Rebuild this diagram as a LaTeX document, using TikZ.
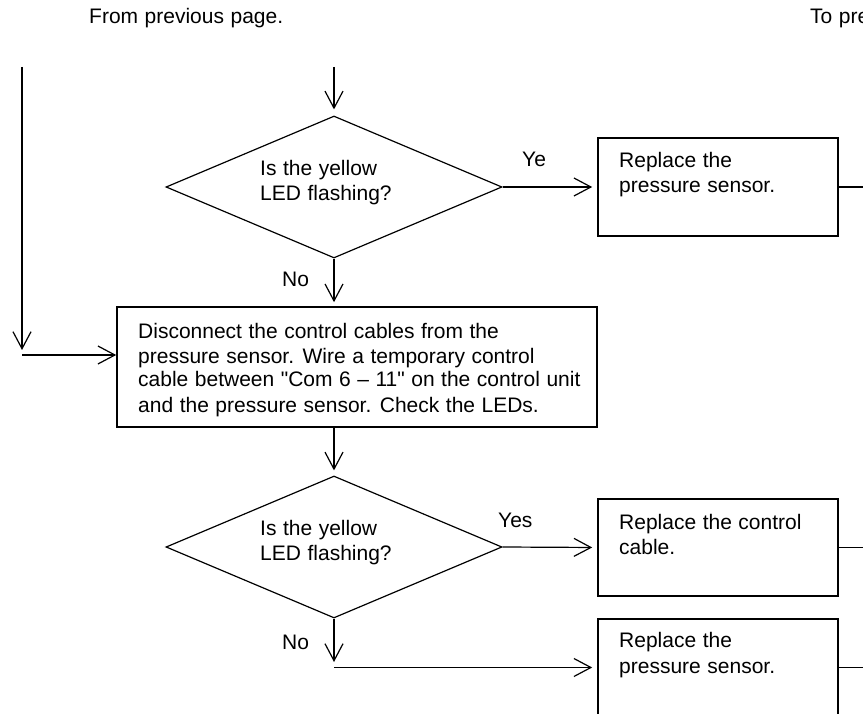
\documentclass[tikz,border=0pt]{standalone}
\usepackage{fontspec}
\newfontfamily\lsans{Liberation Sans}[WordSpace=1.12]
\usetikzlibrary{arrows.meta,shapes.geometric,calc}
\tikzset{
  conn/.style={line width=1.2pt, draw=black},
  arr/.style={conn, -{Straight Barb[length=17pt,width=18pt,line width=1.2pt]}},
  dia/.style={shape=diamond, draw=black, line width=1.2pt, inner sep=0pt, minimum width=336pt, minimum height=142pt},
  boxx/.style={shape=rectangle, draw=black, line width=1.6pt, inner sep=0pt},
  txt/.style={anchor=base west, inner sep=0pt, text=black}
}
\begin{document}
\begin{tikzpicture}[x=1pt,y=-1pt,font=\lsans\fontsize{21pt}{25pt}\selectfont]
\clip (0,0) rectangle (863,714);
\fill[white] (0,0) rectangle (863,714);
% header texts
\node[txt] (from) at (89,24) {From previous page.};
\node[txt] (to) at (810,24) {To previous page.};
% shapes
\node[dia] (d1) at (334,187) {};
\node[boxx, minimum width=240pt, minimum height=98pt] (b1) at (718,187) {};
\node[boxx, minimum width=480pt, minimum height=120pt] (big) at (357,367) {};
\node[dia] (d2) at (334,547) {};
\node[boxx, minimum width=240pt, minimum height=97pt] (b2) at (718,547.5) {};
\node[boxx, minimum width=240pt, minimum height=97pt] (b3) at (718,667.5) {};
% texts
\node[txt] (d1a) at (260,176) {Is the yellow};
\node[txt] (d1b) at (260,201) {LED flashing?};
\node[txt] (b1a) at (619,168) {Replace the};
\node[txt] (b1b) at (619,193) {pressure sensor.};
\node[txt] (bga) at (138,338) {Disconnect the control cables from the};
\node[txt] (bgb) at (138,363) {pressure sensor. Wire a temporary control};
\node[txt] (bgc) at (138,387) {cable between "Com 6 – 11" on the control unit};
\node[txt] (bgd) at (138,412) {and the pressure sensor. Check the LEDs.};
\node[txt] (d2a) at (260,535) {Is the yellow};
\node[txt] (d2b) at (260,560) {LED flashing?};
\node[txt] (b2a) at (619,529) {Replace the control};
\node[txt] (b2b) at (619,554) {cable.};
\node[txt] (b3a) at (619,647) {Replace the};
\node[txt] (b3b) at (619,673) {pressure sensor.};
% labels
\node[txt] (ye) at (522,167) {Ye};
\node[txt] (no1) at (282,287) {No};
\node[txt] (yes2) at (498,527) {Yes};
\node[txt] (no2) at (282,649) {No};
% coordinates
\coordinate (top) at (334,67);
\coordinate (l1) at (22,67);
\coordinate (l2) at (22,350);
\coordinate (l3) at (22,355);
\coordinate (r1) at (863,187);
\coordinate (r2) at (863,547.5);
\coordinate (r3) at (863,667.5);
\coordinate (n2) at (334,662);
\coordinate (h2) at (334,667.5);
% connectors
\draw[arr, shorten >=6pt] (top) -- (d1.north);
\draw[arr] (l1) -- (l2);
\draw[arr] (l3) -- (l3 -| big.west);
\draw[arr, shorten >=5pt] (d1.east) -- (b1.west);
\draw[conn] (b1.east) -- (r1);
\draw[arr, shorten >=4pt] (d1.south) -- (d1.south |- big.north);
\draw[arr, shorten >=5pt] (d2.north |- big.south) -- (d2.north);
\draw[arr, shorten >=5pt] (d2.east) -- (b2.west);
\draw[conn] (b2.east) -- (r2);
\draw[arr] (d2.south) -- (n2);
\draw[arr, shorten >=5pt] (h2) -- (b3.west);
\draw[conn] (b3.east) -- (r3);
\end{tikzpicture}
\end{document}
